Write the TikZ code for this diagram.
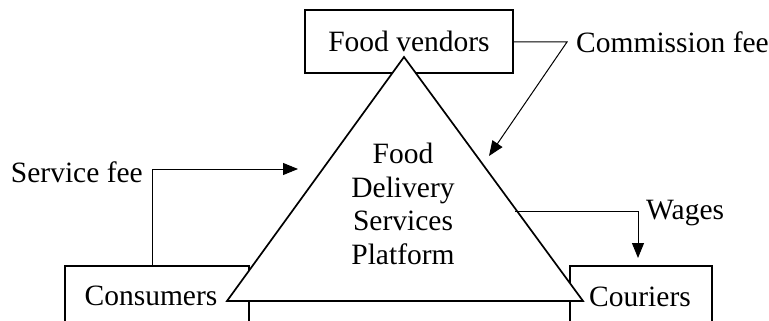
\documentclass[tikz,border=0pt]{standalone}
\usepackage{fontspec}
\setmainfont{Liberation Serif}
\usetikzlibrary{arrows.meta}
\begin{document}
\begin{tikzpicture}[x=1pt,y=-1pt,
  frame/.style={draw,line width=1.7pt,line join=miter},
  flow/.style={line width=1pt,-{Triangle[length=15pt,width=12pt]}},
  lbl/.style={font=\fontsize{29.5}{33.7}\selectfont,inner sep=0pt},
]
\useasboundingbox (0,0) rectangle (769,321);
\clip (0,0) rectangle (769,321);

% actor boxes
\node[frame,lbl,minimum width=208pt,minimum height=63pt] (vendors) at (409,41.5) {Food vendors};
\draw[frame] (65,340) |- (249,266) -- (249,340);
\draw[frame] (570,340) |- (712,266) -- (712,340);
\node[lbl] (consumers) at (151,296) {Consumers};
\node[lbl] (couriers) at (640,297) {Couriers};

% platform triangle, drawn over the boxes
\coordinate (apex) at (404,57);
\coordinate (bl) at (227,301);
\coordinate (br) at (583,301);
\filldraw[frame,fill=white] (apex) -- (bl) -- (br) -- cycle;
\node[lbl,align=center] (platform) at (403,204) {Food\\Delivery\\Services\\Platform};

% money flows
\coordinate (cbend) at (567,42);
\coordinate (ctip) at (489,156);
\node[lbl,anchor=west] (commission) at (576,42) {Commission fee};
\draw[flow] (vendors.east |- cbend) -- (cbend) -- (ctip);

\coordinate (sstart) at (152,266);
\coordinate (stip) at (298,169);
\node[lbl,anchor=east] (service) at (143,172) {Service fee};
\draw[flow] (sstart) |- (stip);

\coordinate (wstart) at (515,211);
\coordinate (wtip) at (638,258);
\node[lbl,anchor=west] (wages) at (646,213) {Wages};
\draw[flow] (wstart) -| (wtip);
\end{tikzpicture}
\end{document}
